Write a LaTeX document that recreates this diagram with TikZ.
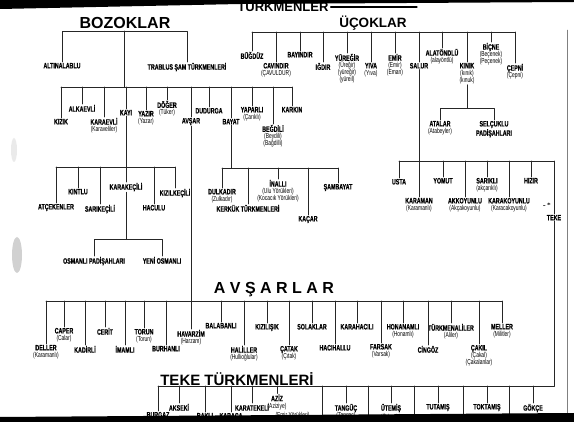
\documentclass[tikz,border=0pt]{standalone}
\usepackage{fontspec}
\newfontfamily\lblfam[FakeStretch=0.68, BoldFeatures={FakeBold=0.6}]{Liberation Sans}
\newfontfamily\ttlfam{Liberation Sans}
\newcommand{\paren}[1]{{\fontsize{7.2}{7}\selectfont\mdseries #1}}
\usetikzlibrary{calc}

\begin{document}
\begin{tikzpicture}[line cap=round,line join=round,x=1pt,y=-1pt,
  lbl/.style={font=\fontsize{7.8}{7}\selectfont\lblfam\bfseries, align=center, inner sep=0.8pt, anchor=north},
  ttl/.style={font=\fontsize{16}{16}\selectfont\ttlfam\bfseries, inner sep=0pt},
  con/.style={line width=0.75pt, black!85}]
\useasboundingbox (0,0) rectangle (574,422);
\fill[white] (0,0) rectangle (574,422);

% scan marks
\fill[black!40, opacity=0.45] (17,255) ellipse (5 and 18);
\fill[black!20, opacity=0.4] (14,150) ellipse (3 and 12);
\draw[black!50, line width=0.4pt] (567,30) -- (567,413);

\coordinate (bztop) at (0, 31);
\coordinate (bzbar) at (0, 87);
\coordinate (kybar) at (0, 167);
\coordinate (krbar) at (0, 239);
\coordinate (bybar) at (0, 168);
\coordinate (ucbar) at (0, 32);
\coordinate (knbar) at (0, 108);
\coordinate (slbar) at (0, 161);
\coordinate (avbar) at (0, 301);
\coordinate (tkbar) at (0, 386);

% titles
\node[ttl, font=\fontsize{13}{13}\selectfont\ttlfam\bfseries] (turkmenler) at (283, 6) {TÜRKMENLER};
\coordinate (tmend) at (417, 7);
\draw[line width=1.3pt] ($(turkmenler.east)+(2,1)$) -- (tmend);
\node[ttl] (bozoklar) at (125, 23) {BOZOKLAR};
\node[ttl, font=\fontsize{13.5}{13.5}\selectfont\ttlfam\bfseries] (ucoklar) at (373, 23) {ÜÇOKLAR};
\node[ttl] (avsarlar) at (274, 290) {A~V~Ş~A~R~L~A~R};
\node[ttl, font=\fontsize{15}{15}\selectfont\ttlfam\bfseries] (tekett) at (237, 379) {TEKE TÜRKMENLERİ};

% Bozoklar
\node[lbl] (altinalablu) at (62, 62) {ALTINALABLU};
\node[lbl] (trablus) at (187, 62) {TRABLUS ŞAM TÜRKMENLERİ};
\coordinate (bzstem) at (124, 31);

\node[lbl] (kizik) at (61, 118) {KIZIK};
\node[lbl] (alkaevli) at (82, 104) {ALKAEVLİ};
\node[lbl] (karaevli) at (104, 117) {KARAEVLİ\\\paren{(Karaveliler)}};
\node[lbl] (kayi) at (126, 109) {KAYI};
\node[lbl] (yazir) at (146, 110) {YAZIR\\\paren{(Yazar)}};
\node[lbl] (doger) at (167, 100) {DÖĞER\\\paren{(Tüker)}};
\node[lbl] (avsar) at (191, 117) {AVŞAR};
\node[lbl] (dudurga) at (209, 107) {DUDURGA};
\node[lbl] (bayat) at (231, 118) {BAYAT};
\node[lbl] (yaparli) at (252, 106) {YAPARLI\\\paren{(Çarıklı)}};
\node[lbl] (begdili) at (273, 124) {BEĞDİLİ\\\paren{(Beydili)}\\\paren{(Bağdilli)}};
\node[lbl] (karkin) at (292, 106) {KARKIN};

\node[lbl] (atcekenler) at (56, 203) {ATÇEKENLER};
\node[lbl] (kintlu) at (78, 188) {KINTLU};
\node[lbl] (sarikecili) at (100, 204) {SARIKEÇİLİ};
\node[lbl] (karakecili) at (126, 182) {KARAKEÇİLİ};
\node[lbl] (haculu) at (154, 204) {HACULU};
\node[lbl] (kizilkecili) at (175, 188) {KIZILKEÇİLİ};

\node[lbl] (osmanli) at (94, 256) {OSMANLI PADİŞAHLARI};
\node[lbl] (yeniosmanli) at (162, 256) {YENİ OSMANLI};

\node[lbl] (dulkadir) at (222, 188) {DULKADIR\\\paren{(Zulkadır)}};
\node[lbl] (kerkuk) at (248, 204) {KERKÜK TÜRKMENLERİ};
\node[lbl] (inalli) at (278, 179) {İNALLI\\\paren{(Ulu Yörükleri)}\\\paren{(Kocacık Yörükleri)}};
\node[lbl] (kacar) at (308, 215) {KAÇAR};
\node[lbl] (sambayat) at (338, 183) {ŞAMBAYAT};

\draw[con] (altinalablu.north) -- (altinalablu.north |- bztop) -- (trablus.north |- bztop) -- (trablus.north);
\draw[con] (bzstem) -- (bzstem |- bzbar);
\draw[con] (kizik.north |- bzbar) -- (karkin.north |- bzbar);
\draw[con] (kizik.north) -- (kizik.north |- bzbar);
\draw[con] (alkaevli.north) -- (alkaevli.north |- bzbar);
\draw[con] (karaevli.north) -- (karaevli.north |- bzbar);
\draw[con] (kayi.north) -- (kayi.north |- bzbar);
\draw[con] (yazir.north) -- (yazir.north |- bzbar);
\draw[con] (doger.north) -- (doger.north |- bzbar);
\draw[con] (avsar.north) -- (avsar.north |- bzbar);
\draw[con] (dudurga.north) -- (dudurga.north |- bzbar);
\draw[con] (bayat.north) -- (bayat.north |- bzbar);
\draw[con] (yaparli.north) -- (yaparli.north |- bzbar);
\draw[con] (begdili.north) -- (begdili.north |- bzbar);
\draw[con] (karkin.north) -- (karkin.north |- bzbar);

\draw[con] (kayi.south) -- (karakecili.north);
\draw[con] (atcekenler.north |- kybar) -- (kizilkecili.north |- kybar);
\draw[con] (atcekenler.north) -- (atcekenler.north |- kybar);
\draw[con] (kintlu.north) -- (kintlu.north |- kybar);
\draw[con] (sarikecili.north) -- (sarikecili.north |- kybar);
\draw[con] (haculu.north) -- (haculu.north |- kybar);
\draw[con] (kizilkecili.north) -- (kizilkecili.north |- kybar);

\draw[con] (karakecili.south) -- (karakecili.south |- krbar);
\draw[con] (osmanli.north) -- (osmanli.north |- krbar) -- (yeniosmanli.north |- krbar) -- (yeniosmanli.north);

\draw[con] (bayat.south) -- (bayat.south |- bybar);
\draw[con] (dulkadir.north |- bybar) -- (sambayat.north |- bybar);
\draw[con] (dulkadir.north) -- (dulkadir.north |- bybar);
\draw[con] (kerkuk.north) -- (kerkuk.north |- bybar);
\draw[con] (inalli.north) -- (inalli.north |- bybar);
\draw[con] (kacar.north) -- (kacar.north |- bybar);
\draw[con] (sambayat.north) -- (sambayat.north |- bybar);

% Ucoklar
\node[lbl] (bugduz) at (252, 51) {BÜĞDÜZ};
\node[lbl] (cavindir) at (276, 62) {CAVINDIR\\\paren{(ÇAVULDUR)}};
\node[lbl] (bayindir) at (300, 51) {BAYINDIR};
\node[lbl] (igdir) at (323, 62) {IĞDIR};
\node[lbl] (yuregir) at (347, 53) {YÜREĞİR\\\paren{(Üreğir)}\\\paren{(yüreğir)}\\\paren{(yüreil)}};
\node[lbl] (yiva) at (371, 62) {YIVA\\\paren{(Yıva)}};
\node[lbl] (emir) at (395, 53) {EMİR\\\paren{(Emir)}\\\paren{(Eman)}};
\node[lbl] (salur) at (419, 62) {SALUR};
\node[lbl] (alatondlu) at (442, 48) {ALATÖNDLÜ\\\paren{(alayöntlü)}};
\node[lbl] (kinik) at (467, 62) {KINIK\\\paren{(kınık)}\\\paren{(kınuk)}};
\node[lbl] (bicne) at (491, 42) {BİÇNE\\\paren{(Beçenek)}\\\paren{(Peçenek)}};
\node[lbl] (cepni) at (515, 63) {ÇEPNİ\\\paren{(Çepni)}};

\node[lbl] (atalar) at (440, 120) {ATALAR\\\paren{(Atabeyler)}};
\node[lbl] (selcuklu) at (494, 120) {SELÇUKLU\\PADİŞAHLARI};

\node[lbl] (usta) at (399, 178) {USTA};
\node[lbl] (karaman) at (419, 197) {KARAMAN\\\paren{(Karamanlı)}};
\node[lbl] (yomut) at (443, 177) {YOMUT};
\node[lbl] (akkoyunlu) at (465, 197) {AKKOYUNLU\\\paren{(Akçakoyunlu)}};
\node[lbl] (sarikli) at (487, 177) {SARIKLI\\\paren{(akçarıklı)}};
\node[lbl] (karakoyunlu) at (509, 197) {KARAKOYUNLU\\\paren{(Karacakoyunlu)}};
\node[lbl] (hizir) at (531, 177) {HIZIR};
\node[lbl] (teke) at (554, 214) {TEKE};
\node[font=\fontsize{6}{6}\selectfont\bfseries, inner sep=0pt] (isaret) at (547, 205) {-\,*};

\draw[con] (bugduz.north |- ucbar) -- (cepni.north |- ucbar);
\draw[con] (bugduz.north) -- (bugduz.north |- ucbar);
\draw[con] (cavindir.north) -- (cavindir.north |- ucbar);
\draw[con] (bayindir.north) -- (bayindir.north |- ucbar);
\draw[con] (igdir.north) -- (igdir.north |- ucbar);
\draw[con] (yuregir.north) -- (yuregir.north |- ucbar);
\draw[con] (yiva.north) -- (yiva.north |- ucbar);
\draw[con] (emir.north) -- (emir.north |- ucbar);
\draw[con] (salur.north) -- (salur.north |- ucbar);
\draw[con] (alatondlu.north) -- (alatondlu.north |- ucbar);
\draw[con] (kinik.north) -- (kinik.north |- ucbar);
\draw[con] (bicne.north) -- (bicne.north |- ucbar);
\draw[con] (cepni.north) -- (cepni.north |- ucbar);

\draw[con] (kinik.south) -- (kinik.south |- knbar);
\draw[con] (atalar.north) -- (atalar.north |- knbar) -- (selcuklu.north |- knbar) -- (selcuklu.north);

\draw[con] (salur.south) -- (karaman.north);
\draw[con] (usta.north |- slbar) -- (teke.north |- slbar);
\draw[con] (usta.north) -- (usta.north |- slbar);
\draw[con] (yomut.north) -- (yomut.north |- slbar);
\draw[con] (akkoyunlu.north) -- (akkoyunlu.north |- slbar);
\draw[con] (sarikli.north) -- (sarikli.north |- slbar);
\draw[con] (karakoyunlu.north) -- (karakoyunlu.north |- slbar);
\draw[con] (hizir.north) -- (hizir.north |- slbar);
\draw[con] (teke.north) -- (teke.north |- slbar);

% Avsarlar
\node[lbl] (deller) at (46, 344) {DELLER\\\paren{(Karamanlı)}};
\node[lbl] (caper) at (64, 327) {CAPER\\\paren{(Calar)}};
\node[lbl] (kadirli) at (85, 345) {KADİRLİ};
\node[lbl] (cerit) at (105, 327) {CERİT};
\node[lbl] (imamli) at (125, 345) {İMAMLI};
\node[lbl] (torun) at (144, 328) {TORUN\\\paren{(Torun)}};
\node[lbl] (burhanli) at (166, 345) {BURHANLI};
\node[lbl] (havarzim) at (191, 329) {HAVARZİM\\\paren{(Harzam)}};
\node[lbl] (balabanli) at (221, 322) {BALABANLI};
\node[lbl] (haliller) at (244, 345) {HALİLLER\\\paren{(Hullioğlular)}};
\node[lbl] (kizilisik) at (267, 323) {KIZILIŞIK};
\node[lbl] (catak) at (289, 345) {ÇATAK\\\paren{(Çıtak)}};
\node[lbl] (solaklar) at (312, 323) {SOLAKLAR};
\node[lbl] (hacihallu) at (335, 344) {HACIHALLU};
\node[lbl] (karahacili) at (357, 323) {KARAHACILI};
\node[lbl] (farsak) at (381, 343) {FARSAK\\\paren{(Varsak)}};
\node[lbl] (honanamli) at (403, 323) {HONANAMLI\\\paren{(Honamlı)}};
\node[lbl] (cingoz) at (428, 345) {CİNGÖZ};
\node[lbl] (turkmenaliler) at (451, 323) {TÜRKMENALİLER\\\paren{(Aliler)}};
\node[lbl] (cakil) at (479, 344) {ÇAKIL\\\paren{(Çakal)}\\\paren{(Çakalanlar)}};
\node[lbl] (meller) at (502, 323) {MELLER\\\paren{(Militler)}};

\draw[con] (avsar.south) -- (havarzim.north);
\draw[con] (deller.north |- avbar) -- (meller.north |- avbar);
\draw[con] (deller.north) -- (deller.north |- avbar);
\draw[con] (caper.north) -- (caper.north |- avbar);
\draw[con] (kadirli.north) -- (kadirli.north |- avbar);
\draw[con] (cerit.north) -- (cerit.north |- avbar);
\draw[con] (imamli.north) -- (imamli.north |- avbar);
\draw[con] (torun.north) -- (torun.north |- avbar);
\draw[con] (burhanli.north) -- (burhanli.north |- avbar);
\draw[con] (balabanli.north) -- (balabanli.north |- avbar);
\draw[con] (haliller.north) -- (haliller.north |- avbar);
\draw[con] (kizilisik.north) -- (kizilisik.north |- avbar);
\draw[con] (catak.north) -- (catak.north |- avbar);
\draw[con] (solaklar.north) -- (solaklar.north |- avbar);
\draw[con] (hacihallu.north) -- (hacihallu.north |- avbar);
\draw[con] (karahacili.north) -- (karahacili.north |- avbar);
\draw[con] (farsak.north) -- (farsak.north |- avbar);
\draw[con] (honanamli.north) -- (honanamli.north |- avbar);
\draw[con] (cingoz.north) -- (cingoz.north |- avbar);
\draw[con] (turkmenaliler.north) -- (turkmenaliler.north |- avbar);
\draw[con] (cakil.north) -- (cakil.north |- avbar);
\draw[con] (meller.north) -- (meller.north |- avbar);

% Teke Turkmenleri
\node[lbl] (burgaz) at (158, 411) {BURGAZ};
\node[lbl] (akseki) at (179, 403) {AKSEKİ};
\node[lbl] (bakli) at (205, 412) {BAKLI};
\node[lbl] (karaca) at (231, 412) {KARACA};
\node[lbl] (karatekeli) at (252, 403) {KARATEKELİ};
\node[lbl] (aziz) at (277, 393.5) {AZİZ\\\paren{(Aziziye)}};
\node[lbl, anchor=north west, inner sep=0.3pt] (emiryoruk) at (275, 411.5) {\paren{(Emir Yörükleri)}};
\node[lbl] (tanguc) at (346, 403) {TANGÜÇ\\\paren{(Tangaç)}};
\node[lbl] (utemis) at (391, 403) {ÜTEMİŞ\\\paren{(Ödemiş)}};
\node[lbl] (tutamis) at (438, 403) {TUTAMIŞ};
\node[lbl] (toktamis) at (487, 403) {TOKTAMIŞ};
\node[lbl] (gokce) at (533, 403) {GÖKÇE};
\coordinate (ta) at (322, 422);
\coordinate (tb) at (368, 422);
\coordinate (tc) at (414, 422);
\coordinate (td) at (463, 422);
\coordinate (te) at (509, 422);

\draw[con] (teke.south) -- (teke.south |- tkbar) -- (burgaz.north |- tkbar);
\draw[con] (burgaz.north) -- (burgaz.north |- tkbar);
\draw[con] (akseki.north) -- (akseki.north |- tkbar);
\draw[con] (bakli.north) -- (bakli.north |- tkbar);
\draw[con] (karaca.north) -- (karaca.north |- tkbar);
\draw[con] (karatekeli.north) -- (karatekeli.north |- tkbar);
\draw[con] (aziz.north) -- (aziz.north |- tkbar);
\draw[con] (tanguc.north) -- (tanguc.north |- tkbar);
\draw[con] (utemis.north) -- (utemis.north |- tkbar);
\draw[con] (tutamis.north) -- (tutamis.north |- tkbar);
\draw[con] (toktamis.north) -- (toktamis.north |- tkbar);
\draw[con] (gokce.north) -- (gokce.north |- tkbar);
\draw[con] (ta) -- (ta |- tkbar);
\draw[con] (tb) -- (tb |- tkbar);
\draw[con] (tc) -- (tc |- tkbar);
\draw[con] (td) -- (td |- tkbar);
\draw[con] (te) -- (te |- tkbar);

% scan edges
\fill[black] (0,0) -- (574,0) -- (574,2) -- (240,4) -- (0,9) -- cycle;
\fill[black] (0,417) -- (574,413) -- (574,422) -- (0,422) -- cycle;

\end{tikzpicture}
\end{document}
